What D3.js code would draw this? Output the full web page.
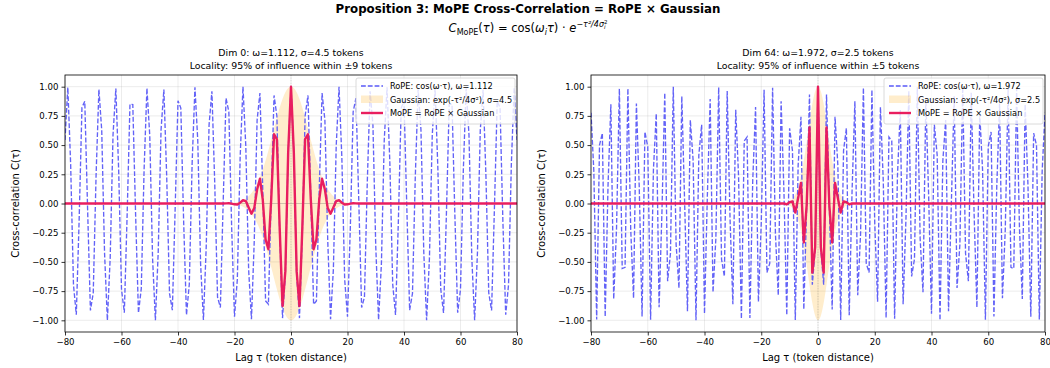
<!DOCTYPE html>
<html>
<head>
<meta charset="utf-8">
<script src="https://cdn.jsdelivr.net/npm/d3@7"></script>
<style>
  body { margin: 0; background: #fff; }
  svg { font-family: "DejaVu Sans", sans-serif; }
</style>
</head>
<body>
<svg id="svg" width="1050" height="368"></svg>
<script>
// token lags sampled on the x axis
const lags = d3.range(-80, 81);

// Dim 0 (omega = 1.112, sigma = 4.5), lag -80 .. 80
const ropeDim0 = [
  0.544, 0.993, 0.336, -0.696, -0.952, -0.147, 0.822, 0.875, -0.047, -0.916,
  -0.765, 0.239, 0.976, 0.626, -0.422, -1.000, -0.464, 0.589, 0.985, 0.284,
  -0.734, -0.934, -0.093, 0.851, 0.847, -0.101, -0.937, -0.729, 0.291, 0.987,
  0.583, -0.471, -1.000, -0.415, 0.632, 0.975, 0.231, -0.770, -0.913, -0.039,
  0.879, 0.817, -0.155, -0.954, -0.690, 0.343, 0.994, 0.538, -0.518, -0.996,
  -0.365, 0.673, 0.961, 0.178, -0.803, -0.890, 0.016, 0.903, 0.785, -0.208,
  -0.969, -0.650, 0.393, 0.999, 0.491, -0.564, -0.990, -0.314, 0.713, 0.945,
  0.124, -0.835, -0.863, 0.070, 0.925, 0.750, -0.261, -0.981, -0.608, 0.443,
  1.000,
  0.443, -0.608, -0.981, -0.261, 0.750, 0.925, 0.070, -0.863, -0.835, 0.124,
  0.945, 0.713, -0.314, -0.990, -0.564, 0.491, 0.999, 0.393, -0.650, -0.969,
  -0.208, 0.785, 0.903, 0.016, -0.890, -0.803, 0.178, 0.961, 0.673, -0.365,
  -0.996, -0.518, 0.538, 0.994, 0.343, -0.690, -0.954, -0.155, 0.817, 0.879,
  -0.039, -0.913, -0.770, 0.231, 0.975, 0.632, -0.415, -1.000, -0.471, 0.583,
  0.987, 0.291, -0.729, -0.937, -0.101, 0.847, 0.851, -0.093, -0.934, -0.734,
  0.284, 0.985, 0.589, -0.464, -1.000, -0.422, 0.626, 0.976, 0.239, -0.765,
  -0.916, -0.047, 0.875, 0.822, -0.147, -0.952, -0.696, 0.336, 0.993, 0.544
];
const gaussDim0 = [
  0, 0, 0, 0, 0, 0, 0, 0, 0, 0,
  0, 0, 0, 0, 0, 0, 0, 0, 0, 0,
  0, 0, 0, 0, 0, 0, 0, 0, 0, 0,
  0, 0, 0, 0, 0, 0, 0, 0, 0, 0,
  0, 0, 0, 0, 0, 0, 0, 0, 0, 0,
  0, 0, 0, 0, 0, 0, 0.001, 0.001, 0.003, 0.004,
  0.007, 0.012, 0.018, 0.028, 0.042, 0.062, 0.089, 0.124, 0.169, 0.224,
  0.291, 0.368, 0.454, 0.546, 0.641, 0.734, 0.821, 0.895, 0.952, 0.988,
  1.000,
  0.988, 0.952, 0.895, 0.821, 0.734, 0.641, 0.546, 0.454, 0.368, 0.291,
  0.224, 0.169, 0.124, 0.089, 0.062, 0.042, 0.028, 0.018, 0.012, 0.007,
  0.004, 0.003, 0.001, 0.001, 0, 0, 0, 0, 0, 0,
  0, 0, 0, 0, 0, 0, 0, 0, 0, 0,
  0, 0, 0, 0, 0, 0, 0, 0, 0, 0,
  0, 0, 0, 0, 0, 0, 0, 0, 0, 0,
  0, 0, 0, 0, 0, 0, 0, 0, 0, 0,
  0, 0, 0, 0, 0, 0, 0, 0, 0, 0
];
const mopeDim0 = [
  0, 0, 0, 0, 0, 0, 0, 0, 0, 0,
  0, 0, 0, 0, 0, 0, 0, 0, 0, 0,
  0, 0, 0, 0, 0, 0, 0, 0, 0, 0,
  0, 0, 0, 0, 0, 0, 0, 0, 0, 0,
  0, 0, 0, 0, 0, 0, 0, 0, 0, 0,
  0, 0, 0, 0, 0, 0, 0, 0.001, 0.002, -0.001,
  -0.007, -0.008, 0.007, 0.028, 0.021, -0.035, -0.088, -0.039, 0.120, 0.212,
  0.036, -0.307, -0.392, 0.038, 0.593, 0.551, -0.214, -0.878, -0.579, 0.437,
  1.000,
  0.437, -0.579, -0.878, -0.214, 0.551, 0.593, 0.038, -0.392, -0.307, 0.036,
  0.212, 0.120, -0.039, -0.088, -0.035, 0.021, 0.028, 0.007, -0.008, -0.007,
  -0.001, 0.002, 0.001, 0, 0, 0, 0, 0, 0, 0,
  0, 0, 0, 0, 0, 0, 0, 0, 0, 0,
  0, 0, 0, 0, 0, 0, 0, 0, 0, 0,
  0, 0, 0, 0, 0, 0, 0, 0, 0, 0,
  0, 0, 0, 0, 0, 0, 0, 0, 0, 0,
  0, 0, 0, 0, 0, 0, 0, 0, 0, 0
];

// Dim 64 (omega = 1.972, sigma = 2.5), lag -80 .. 80
const ropeDim64 = [
  0.777, 0.276, -0.993, 0.500, 0.602, -0.970, 0.155, 0.849, -0.818, -0.210,
  0.982, -0.557, -0.547, 0.984, -0.222, -0.811, 0.855, 0.143, -0.967, 0.613,
  0.488, -0.994, 0.288, 0.769, -0.889, -0.075, 0.947, -0.665, -0.428, 0.999,
  -0.352, -0.724, 0.918, 0.007, -0.923, 0.714, 0.366, -1.000, 0.415, 0.675,
  -0.943, 0.061, 0.895, -0.760, -0.301, 0.995, -0.476, -0.624, 0.963, -0.129,
  -0.863, 0.802, 0.236, -0.987, 0.535, 0.569, -0.979, 0.196, 0.826, -0.841,
  -0.169, 0.973, -0.591, -0.512, 0.991, -0.262, -0.786, 0.876, 0.102, -0.956,
  0.644, 0.452, -0.998, 0.327, 0.742, -0.907, -0.034, 0.933, -0.695, -0.391,
  1.000,
  -0.391, -0.695, 0.933, -0.034, -0.907, 0.742, 0.327, -0.998, 0.452, 0.644,
  -0.956, 0.102, 0.876, -0.786, -0.262, 0.991, -0.512, -0.591, 0.973, -0.169,
  -0.841, 0.826, 0.196, -0.979, 0.569, 0.535, -0.987, 0.236, 0.802, -0.863,
  -0.129, 0.963, -0.624, -0.476, 0.995, -0.301, -0.760, 0.895, 0.061, -0.943,
  0.675, 0.415, -1.000, 0.366, 0.714, -0.923, 0.007, 0.918, -0.724, -0.352,
  0.999, -0.428, -0.665, 0.947, -0.075, -0.889, 0.769, 0.288, -0.994, 0.488,
  0.613, -0.967, 0.143, 0.855, -0.811, -0.222, 0.984, -0.547, -0.557, 0.982,
  -0.210, -0.818, 0.849, 0.155, -0.970, 0.602, 0.500, -0.993, 0.276, 0.777
];
const gaussDim64 = [
  0, 0, 0, 0, 0, 0, 0, 0, 0, 0,
  0, 0, 0, 0, 0, 0, 0, 0, 0, 0,
  0, 0, 0, 0, 0, 0, 0, 0, 0, 0,
  0, 0, 0, 0, 0, 0, 0, 0, 0, 0,
  0, 0, 0, 0, 0, 0, 0, 0, 0, 0,
  0, 0, 0, 0, 0, 0, 0, 0, 0, 0,
  0, 0, 0, 0, 0, 0, 0.0004, 0.001, 0.003, 0.008,
  0.018, 0.039, 0.077, 0.141, 0.237, 0.368, 0.527, 0.698, 0.852, 0.961,
  1.000,
  0.961, 0.852, 0.698, 0.527, 0.368, 0.237, 0.141, 0.077, 0.039, 0.018,
  0.008, 0.003, 0.001, 0.0004, 0, 0, 0, 0, 0, 0,
  0, 0, 0, 0, 0, 0, 0, 0, 0, 0,
  0, 0, 0, 0, 0, 0, 0, 0, 0, 0,
  0, 0, 0, 0, 0, 0, 0, 0, 0, 0,
  0, 0, 0, 0, 0, 0, 0, 0, 0, 0,
  0, 0, 0, 0, 0, 0, 0, 0, 0, 0,
  0, 0, 0, 0, 0, 0, 0, 0, 0, 0
];
const mopeDim64 = [
  0, 0, 0, 0, 0, 0, 0, 0, 0, 0,
  0, 0, 0, 0, 0, 0, 0, 0, 0, 0,
  0, 0, 0, 0, 0, 0, 0, 0, 0, 0,
  0, 0, 0, 0, 0, 0, 0, 0, 0, 0,
  0, 0, 0, 0, 0, 0, 0, 0, 0, 0,
  0, 0, 0, 0, 0, 0, 0, 0, 0, 0,
  0, 0, 0, 0, 0, 0, 0, 0.001, 0, -0.008,
  0.012, 0.018, -0.077, 0.046, 0.176, -0.334, -0.018, 0.651, -0.592, -0.375,
  1.000,
  -0.375, -0.592, 0.651, -0.018, -0.334, 0.176, 0.046, -0.077, 0.018, 0.012,
  -0.008, 0, 0.001, 0, 0, 0, 0, 0, 0, 0,
  0, 0, 0, 0, 0, 0, 0, 0, 0, 0,
  0, 0, 0, 0, 0, 0, 0, 0, 0, 0,
  0, 0, 0, 0, 0, 0, 0, 0, 0, 0,
  0, 0, 0, 0, 0, 0, 0, 0, 0, 0,
  0, 0, 0, 0, 0, 0, 0, 0, 0, 0,
  0, 0, 0, 0, 0, 0, 0, 0, 0, 0
];

const xTicks = [-80, -60, -40, -20, 0, 20, 40, 60, 80];
const yTicks = [-1, -0.75, -0.5, -0.25, 0, 0.25, 0.5, 0.75, 1];

const panels = [
  { left: 65, right: 517, rope: ropeDim0, gauss: gaussDim0, mope: mopeDim0,
    title1: 'Dim 0: ω=1.112, σ=4.5 tokens',
    title2: 'Locality: 95% of influence within ±9 tokens',
    legend: ['RoPE: cos(ω·τ), ω=1.112', 'Gaussian: exp(-τ²/4σ²), σ=4.5', 'MoPE = RoPE × Gaussian'] },
  { left: 591, right: 1045, rope: ropeDim64, gauss: gaussDim64, mope: mopeDim64,
    title1: 'Dim 64: ω=1.972, σ=2.5 tokens',
    title2: 'Locality: 95% of influence within ±5 tokens',
    legend: ['RoPE: cos(ω·τ), ω=1.972', 'Gaussian: exp(-τ²/4σ²), σ=2.5', 'MoPE = RoPE × Gaussian'] }
];

const plotTop = 75, plotBottom = 332;
const ropeColor = '#5a5af7', mopeColor = '#e91e5f', gaussColor = '#ffa500';
const svg = d3.select('#svg');

// figure title + formula
svg.append('text').attr('x', 528).attr('y', 13).attr('text-anchor', 'middle')
  .attr('font-size', 11.8).attr('font-weight', 'bold').text('Proposition 3: MoPE Cross-Correlation = RoPE × Gaussian');
const f = svg.append('text').attr('x', 528).attr('y', 32).attr('text-anchor', 'middle')
  .attr('font-size', 11.5);
f.append('tspan').attr('font-style', 'italic').text('C');
f.append('tspan').attr('font-size', 8).attr('dy', 2.5).text('MoPE');
f.append('tspan').attr('dy', -2.5).text('(');
f.append('tspan').attr('font-style', 'italic').text('τ');
f.append('tspan').text(') = cos(');
f.append('tspan').attr('font-style', 'italic').text('ω');
f.append('tspan').attr('font-size', 8).attr('font-style', 'italic').attr('dy', 2.5).text('i');
f.append('tspan').attr('font-style', 'italic').attr('dy', -2.5).text('τ');
f.append('tspan').text(') · ');
f.append('tspan').attr('font-style', 'italic').text('e');
f.append('tspan').attr('font-size', 8).attr('font-style', 'italic').attr('dy', -5).text('−τ²/4σ');
f.append('tspan').attr('font-size', 5.5).attr('font-style', 'italic').attr('dy', 2).text('i');
f.append('tspan').attr('font-size', 5.5).attr('dx', -1.6).attr('dy', -5).text('2');

panels.forEach(p => {
  const x = d3.scaleLinear().domain([-80, 80]).range([p.left, p.right]);
  const y = d3.scaleLinear().domain([-1.1, 1.1]).range([plotBottom, plotTop]);
  const g = svg.append('g');
  const clipId = 'clip' + p.left;
  svg.append('clipPath').attr('id', clipId).append('rect')
    .attr('x', p.left).attr('y', plotTop).attr('width', p.right - p.left).attr('height', plotBottom - plotTop);

  // grid
  g.append('g').selectAll('line').data(xTicks).join('line')
    .attr('x1', d => x(d)).attr('x2', d => x(d)).attr('y1', plotTop).attr('y2', plotBottom)
    .attr('stroke', '#b0b0b0').attr('stroke-opacity', 0.3).attr('stroke-width', 0.8);
  g.append('g').selectAll('line').data(yTicks).join('line')
    .attr('x1', p.left).attr('x2', p.right).attr('y1', d => y(d)).attr('y2', d => y(d))
    .attr('stroke', '#b0b0b0').attr('stroke-opacity', 0.3).attr('stroke-width', 0.8);

  const plot = g.append('g').attr('clip-path', `url(#${clipId})`);
  // gaussian envelope band
  const band = d3.area().curve(d3.curveMonotoneX).x((d, i) => x(lags[i])).y0(d => y(-d)).y1(d => y(d));
  plot.append('path').datum(p.gauss).attr('d', band)
    .attr('fill', gaussColor).attr('fill-opacity', 0.2);
  // reference lines at zero
  plot.append('line').attr('x1', p.left).attr('x2', p.right).attr('y1', y(0)).attr('y2', y(0))
    .attr('stroke', '#808080').attr('stroke-opacity', 0.5).attr('stroke-width', 0.6);
  plot.append('line').attr('x1', x(0)).attr('x2', x(0)).attr('y1', plotTop).attr('y2', plotBottom)
    .attr('stroke', '#808080').attr('stroke-opacity', 0.5).attr('stroke-width', 0.6)
    .attr('stroke-dasharray', '1,1.6');

  const line = d3.line().x((d, i) => x(lags[i])).y(d => y(d));
  plot.append('path').datum(p.rope).attr('d', line).attr('fill', 'none')
    .attr('stroke', ropeColor).attr('stroke-opacity', 0.95).attr('stroke-width', 1.35)
    .attr('stroke-dasharray', '4.8,2');
  plot.append('path').datum(p.mope).attr('d', line).attr('fill', 'none')
    .attr('stroke', mopeColor).attr('stroke-width', 2.4).attr('stroke-linejoin', 'round');

  // axes
  const xAxis = g.append('g').attr('transform', `translate(0,${plotBottom})`)
    .call(d3.axisBottom(x).tickValues(xTicks).tickSize(3.5).tickPadding(3).tickFormat(d => d < 0 ? '−' + Math.abs(d) : d));
  const yAxis = g.append('g').attr('transform', `translate(${p.left},0)`)
    .call(d3.axisLeft(y).tickValues(yTicks).tickSize(3.5).tickPadding(3)
      .tickFormat(d => (d < 0 ? '−' : '') + Math.abs(d).toFixed(2)));
  [xAxis, yAxis].forEach(a => {
    a.selectAll('text').attr('font-size', 8.6).attr('fill', '#000').attr('font-family', 'DejaVu Sans');
    a.selectAll('line').attr('stroke', '#000').attr('stroke-width', 0.8);
    a.select('.domain').remove();
  });
  g.append('rect').attr('x', p.left).attr('y', plotTop).attr('width', p.right - p.left).attr('height', plotBottom - plotTop)
    .attr('fill', 'none').attr('stroke', '#000').attr('stroke-width', 0.8);

  const cx = (p.left + p.right) / 2;
  g.append('text').attr('x', cx).attr('y', 361).attr('text-anchor', 'middle').attr('font-size', 10).text('Lag τ (token distance)');
  g.append('text').attr('transform', `translate(${p.left - 46},${(plotTop + plotBottom) / 2}) rotate(-90)`)
    .attr('text-anchor', 'middle').attr('font-size', 10).text('Cross-correlation C(τ)');
  g.append('text').attr('x', cx).attr('y', 56).attr('text-anchor', 'middle').attr('font-size', 9.4).text(p.title1);
  g.append('text').attr('x', cx).attr('y', 69).attr('text-anchor', 'middle').attr('font-size', 9.4).text(p.title2);

  // legend
  const lw = 159, lh = 46;
  const lx = p.right - 2 - lw, ly = plotTop + 3;
  const lg = g.append('g');
  lg.append('rect').attr('x', lx).attr('y', ly).attr('width', lw).attr('height', lh).attr('rx', 2)
    .attr('fill', '#fff').attr('fill-opacity', 0.8).attr('stroke', '#d0d0d0').attr('stroke-width', 0.8);
  const rows = [ly + 11, ly + 24.5, ly + 38];
  lg.append('line').attr('x1', lx + 5).attr('x2', lx + 27).attr('y1', rows[0] - 3).attr('y2', rows[0] - 3)
    .attr('stroke', ropeColor).attr('stroke-width', 1.35).attr('stroke-dasharray', '4.8,2');
  lg.append('rect').attr('x', lx + 5).attr('y', rows[1] - 7).attr('width', 22).attr('height', 7.5)
    .attr('fill', gaussColor).attr('fill-opacity', 0.2);
  lg.append('line').attr('x1', lx + 5).attr('x2', lx + 27).attr('y1', rows[2] - 3).attr('y2', rows[2] - 3)
    .attr('stroke', mopeColor).attr('stroke-width', 2.4);
  lg.selectAll('text.leg').data(p.legend).join('text').attr('class', 'leg')
    .attr('x', lx + 34).attr('y', (d, i) => rows[i]).attr('font-size', 8.2).text(d => d);
});
</script>
</body>
</html>
